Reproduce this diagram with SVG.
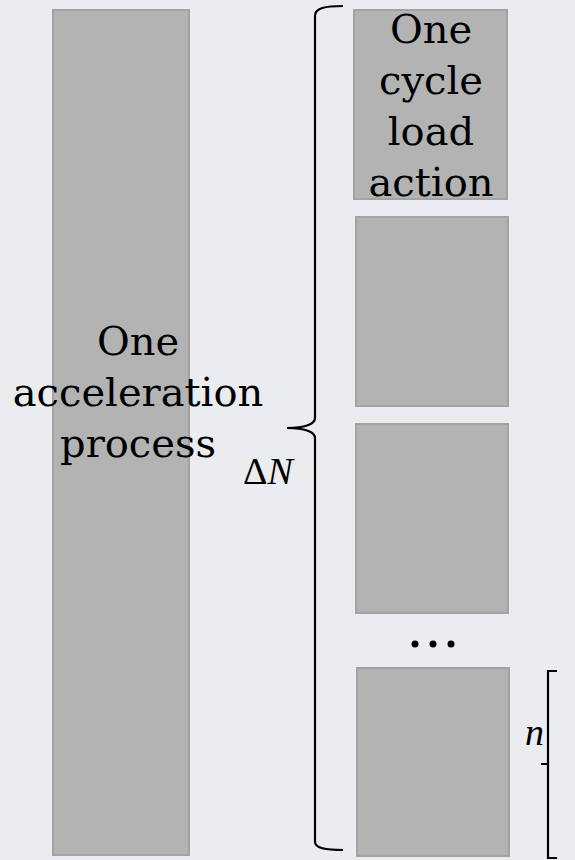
<svg xmlns="http://www.w3.org/2000/svg" width="575" height="860" viewBox="0 0 575 860">
<style>
.box{fill:#b3b3b3;stroke:#a3a3a3;stroke-width:2}
.lbl{font-family:"DejaVu Serif",serif;font-size:40px;fill:#000;text-anchor:middle}
.math{font-family:"Liberation Serif",serif;font-size:38px;fill:#000}
.br{fill:none;stroke:#000;stroke-width:2.2}
</style>
<rect x="0" y="0" width="575" height="860" fill="#eaecef"/>
<g id="acceleration">
<rect class="box" x="53" y="10" width="136" height="845"/>
<text class="lbl" x="138" y="355">One</text>
<text class="lbl" x="138" y="406">acceleration</text>
<text class="lbl" x="138" y="457">process</text>
</g>
<g id="cycle1">
<rect class="box" x="354" y="10" width="153" height="189"/>
<text class="lbl" x="431" y="43">One</text>
<text class="lbl" x="431" y="94">cycle</text>
<text class="lbl" x="431" y="145">load</text>
<text class="lbl" x="431" y="196">action</text>
</g>
<g id="cycle2"><rect class="box" x="356" y="217" width="152" height="189"/></g>
<g id="cycle3"><rect class="box" x="356" y="424" width="152" height="189"/></g>
<g id="dots">
<circle cx="415" cy="644" r="3.5"/><circle cx="433" cy="644" r="3.5"/><circle cx="451" cy="644" r="3.5"/>
</g>
<g id="cycleN"><rect class="box" x="357" y="668" width="152" height="188"/></g>
<g id="connectors">
<path class="br" d="M343,6 C325,6 315,8 315,16 L315,418 C315,424 305,428 287,428 C305,428 315,432 315,438 L315,842 C315,848 325,850 343,850"/>
<path class="br" d="M557,671 L548,671 L548,858 L557,858 M541,764 L548,764"/>
</g>
<g id="labels">
<text class="math" x="243" y="484">Δ<tspan font-style="italic">N</tspan></text>
<text class="math" x="525" y="745" font-style="italic">n</text>
</g>
</svg>
